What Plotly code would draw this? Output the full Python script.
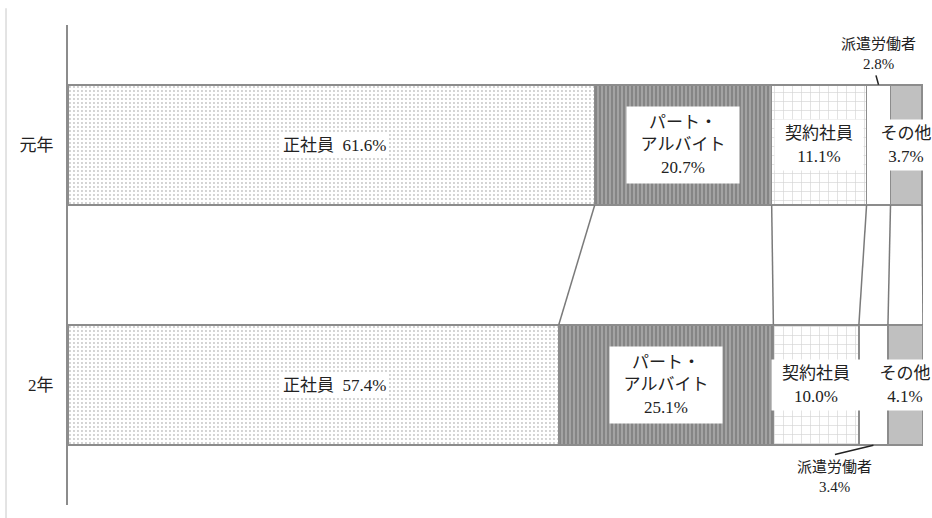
import plotly.graph_objects as go

# ---- data ----
categories = ["元年", "2年"]
series_names = ["正社員", "パート・アルバイト", "契約社員", "派遣労働者", "その他"]
label_names = ["正社員", "パート・<br>アルバイト", "契約社員", "派遣労働者", "その他"]
values_gannen = [61.6, 20.7, 11.1, 2.8, 3.7]
values_2nen = [57.4, 25.1, 10.0, 3.4, 4.1]

FONT = "Liberation Serif, Noto Sans CJK JP, sans-serif"
EDGE = "#8c8c8c"
BAR_W = 0.502
ypos = [1, 0]

patterns = [
    dict(shape=".", size=4, solidity=0.18, fgcolor="#8a8a8a", bgcolor="white", fillmode="overlay"),
    dict(shape="|", size=4, solidity=0.45, fgcolor="#c8c8c8", bgcolor="#858585", fillmode="overlay"),
    dict(shape="+", size=9, solidity=0.14, fgcolor="#a8a8a8", bgcolor="white", fillmode="overlay"),
    dict(shape="", fgcolor="white", bgcolor="white"),
    dict(shape="", fgcolor="#c0c0c0", bgcolor="#c0c0c0"),
]
colors = ["white", "#858585", "white", "white", "#c0c0c0"]

fig = go.Figure()
for i, name in enumerate(series_names):
    fig.add_trace(go.Bar(
        name=name,
        x=[values_gannen[i], values_2nen[i]],
        y=ypos,
        orientation="h",
        width=BAR_W,
        marker=dict(color=colors[i], pattern=patterns[i],
                    line=dict(color=EDGE, width=1.5)),
        hoverinfo="skip",
    ))

def cums(vals):
    out, s = [], 0.0
    for v in vals:
        s += v
        out.append(s)
    return out

cg = cums(values_gannen)
c2 = cums(values_2nen)

shapes = []
# connectors between the two bars
for a, b in zip(cg, c2):
    shapes.append(dict(type="line", xref="x", yref="y",
                       x0=a, y0=1 - BAR_W / 2, x1=b, y1=0 + BAR_W / 2,
                       line=dict(color="#7a7a7a", width=1.5)))
# faint left frame line
shapes.append(dict(type="line", xref="paper", yref="paper",
                   x0=-0.0725, x1=-0.0725, y0=1.035, y1=-0.03,
                   line=dict(color="#d2d2d2", width=1.2)))

annotations = []
label_box = [
    dict(borderpad=2),
    dict(width=100, height=64, borderpad=6),
    dict(width=82, height=44, borderpad=3),
    None,
    dict(width=54, height=44, borderpad=3),
]

for row, (vals, cum, yc) in enumerate([(values_gannen, cg, 1), (values_2nen, c2, 0)]):
    for i, v in enumerate(vals):
        center = cum[i] - v / 2
        if i == 3:
            continue
        if i == 0:
            text = f"{label_names[i]}  {v:.1f}%"
            xc = 31.2
        else:
            text = f"{label_names[i]}<br>{v:.1f}%"
            xc = center
        kw = label_box[i]
        annotations.append(dict(
            x=xc, y=yc, xref="x", yref="y", text=text, showarrow=False,
            font=dict(family=FONT, size=17, color="#222"),
            bgcolor="white", align="center", **kw))

# 派遣労働者 labels (outside bars with leader lines)
center_g = cg[3] - values_gannen[3] / 2
center_2 = c2[3] - values_2nen[3] / 2
annotations.append(dict(
    x=center_g, y=1.38, xref="x", yref="y",
    text=f"{label_names[3]}<br>{values_gannen[3]:.1f}%", showarrow=False,
    font=dict(family=FONT, size=15, color="#222"), align="center"))
shapes.append(dict(type="line", xref="x", yref="y",
                   x0=center_g - 0.3, y0=1.29, x1=center_g, y1=1 + BAR_W / 2,
                   line=dict(color="#222", width=1.5)))
annotations.append(dict(
    x=89.7, y=-0.385, xref="x", yref="y",
    text=f"{label_names[3]}<br>{values_2nen[3]:.1f}%", showarrow=False,
    font=dict(family=FONT, size=15, color="#222"), align="center"))
shapes.append(dict(type="line", xref="x", yref="y",
                   x0=89.7, y0=-0.29, x1=center_2, y1=-BAR_W / 2,
                   line=dict(color="#222", width=1.5)))

fig.update_layout(
    width=932, height=518,
    margin=dict(l=68, r=9, t=25, b=13),
    barmode="stack",
    showlegend=False,
    plot_bgcolor="white",
    paper_bgcolor="white",
    font=dict(family=FONT, size=17, color="#222"),
    shapes=shapes,
    annotations=annotations,
    xaxis=dict(range=[0, 100], visible=False, fixedrange=True),
    yaxis=dict(range=[-0.5, 1.5], tickvals=ypos, ticktext=categories,
               showline=True, linecolor=EDGE, linewidth=2, ticks="",
               showgrid=False, zeroline=False, ticklabelstandoff=9,
               tickfont=dict(family=FONT, size=17, color="#222")),
)

fig.write_html("out.html")
